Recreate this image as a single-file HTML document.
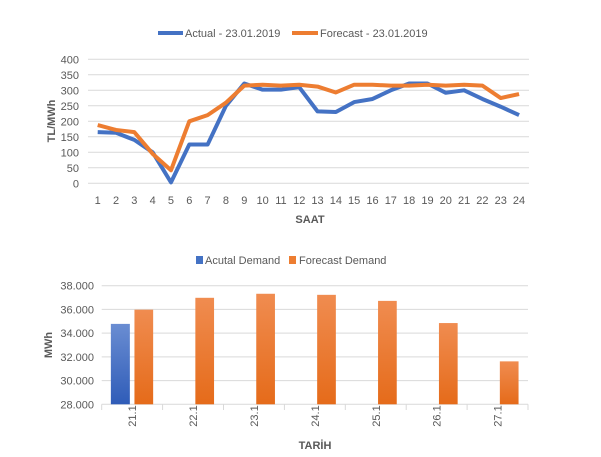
<!DOCTYPE html>
<html><head><meta charset="utf-8"><style>
body{margin:0;background:#fff;width:601px;height:457px;overflow:hidden}
svg{display:block;font-family:"Liberation Sans",sans-serif}
</style></head><body>
<svg id="s" width="601" height="457" xmlns="http://www.w3.org/2000/svg">
<g id="g1" stroke="#d9d9d9" stroke-width="1"></g>
<g fill="#595959" font-size="11">
<line x1="158" y1="33" x2="183" y2="33" stroke="#4472c4" stroke-width="4"/>
<text x="185" y="37">Actual - 23.01.2019</text>
<line x1="292" y1="33" x2="318" y2="33" stroke="#ed7d31" stroke-width="4"/>
<text x="320" y="37">Forecast - 23.01.2019</text>
<g id="ylab1" text-anchor="end"></g>
<g id="xlab1" text-anchor="middle"></g>
<text x="310" y="223" text-anchor="middle" font-weight="bold">SAAT</text>
<text transform="translate(55,121) rotate(-90)" text-anchor="middle" font-weight="bold">TL/MWh</text>
</g>
<polyline id="pa" fill="none" stroke="#4472c4" stroke-width="4" stroke-linejoin="round"/>
<polyline id="pf" fill="none" stroke="#ed7d31" stroke-width="4" stroke-linejoin="round"/>
<defs>
<linearGradient id="gb" x1="0" y1="0" x2="0" y2="1"><stop offset="0" stop-color="#6a8dd2"/><stop offset="1" stop-color="#2f5cb8"/></linearGradient>
<linearGradient id="go" x1="0" y1="0" x2="0" y2="1"><stop offset="0" stop-color="#f08c50"/><stop offset="1" stop-color="#e56b1a"/></linearGradient>
</defs>
<g id="g2" stroke="#d9d9d9" stroke-width="1"></g>
<g id="bars"></g>
<g fill="#595959" font-size="11">
<rect x="196" y="256" width="7" height="8" fill="#4472c4"/>
<text x="205" y="264">Acutal Demand</text>
<rect x="289" y="256" width="7" height="8" fill="#ed7d31"/>
<text x="299" y="264">Forecast Demand</text>
<g id="ylab2" text-anchor="end"></g>
<g id="xlab2"></g>
<text x="315" y="449" text-anchor="middle" font-weight="bold">TARİH</text>
<text transform="translate(52,345) rotate(-90)" text-anchor="middle" font-weight="bold">MWh</text>
</g>
</svg>
<script>
const NS="http://www.w3.org/2000/svg";
function el(p,t,a,txt){const e=document.createElementNS(NS,t);for(const k in a)e.setAttribute(k,a[k]);if(txt!==undefined)e.textContent=txt;document.getElementById(p).appendChild(e);return e;}
const y1=v=>183.3-v*0.31, x1=i=>97.7+(i-1)*18.32;
for(let v=0;v<=400;v+=50){el("g1","line",{x1:88,x2:529,y1:y1(v),y2:y1(v)});el("ylab1","text",{x:79,y:y1(v)+4},v);}
for(let i=1;i<=24;i++)el("xlab1","text",{x:x1(i),y:204},i);
const A=[165,163,140,100,3,125,125,250,322,302,302,310,232,230,262,272,300,322,322,292,300,272,247,220];
const F=[188,172,165,95,42,200,220,260,315,318,315,318,312,293,318,318,315,315,318,315,318,315,275,288];
document.getElementById("pa").setAttribute("points",A.map((v,i)=>x1(i+1)+","+y1(v)).join(" "));
document.getElementById("pf").setAttribute("points",F.map((v,i)=>x1(i+1)+","+y1(v)).join(" "));
const y2=v=>404.3-(v-28000)*118.6/10000;
for(let v=28000;v<=38000;v+=2000){el("g2","line",{x1:101.7,x2:528,y1:y2(v),y2:y2(v)});el("ylab2","text",{x:94,y:y2(v)+4},(v/1000).toFixed(3));}
for(let i=0;i<=7;i++){const x=101.7+i*60.9;el("g2","line",{x1:x,x2:x,y1:404.3,y2:410});}
const O=[35980,36980,37320,37230,36720,34850,31620];
const L=["21.1","22.1","23.1","24.1","25.1","26.1","27.1"];
O.forEach((v,i)=>{const c=101.7+60.9*(i+0.5);
 if(i==0)el("bars","rect",{x:c-21.3,y:y2(34780),width:19,height:404.3-y2(34780),fill:"url(#gb)"});
 el("bars","rect",{x:c+2.3,y:y2(v),width:18.7,height:404.3-y2(v),fill:"url(#go)"});
 el("xlab2","text",{transform:`translate(${c+4},416) rotate(-90)`,"text-anchor":"middle"},L[i]);
});
</script>
</body></html>
